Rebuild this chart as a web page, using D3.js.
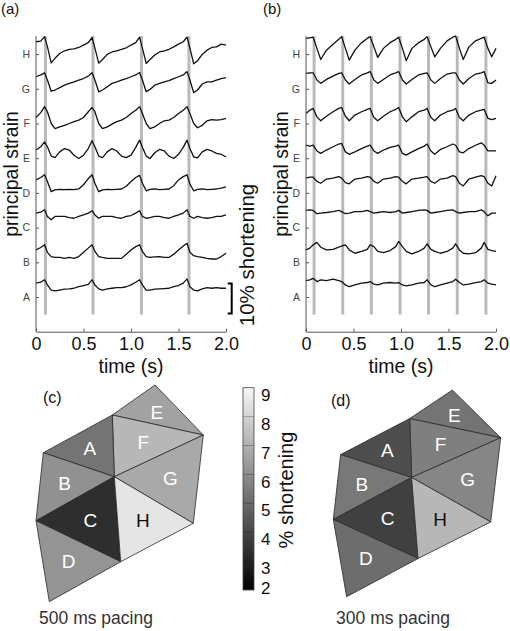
<!DOCTYPE html>
<html><head><meta charset="utf-8">
<script src="https://cdn.jsdelivr.net/npm/d3@7"></script>
<style>body{margin:0;background:#fff}</style>
</head><body>
<svg id="fig" width="510" height="631"></svg>
<script>
// ---------- data ----------
const letters = ["A","B","C","D","E","F","G","H"];
const laneStep = 11.5;               // % strain between stacked traces
const xTicks = [0, 0.5, 1.0, 1.5, 2.0];
const xTickLabels = ["0","0.5","1.0","1.5","2.0"];

// panel (a): 500 ms pacing
const timesA = [0,0.05,0.09,0.12,0.16,0.2,0.25,0.3,0.35,0.4,0.45,0.5,0.55,0.59,0.62,0.66,0.7,0.75,0.8,0.85,0.9,0.95,1.0,1.05,1.09,1.12,1.16,1.2,1.25,1.3,1.35,1.4,1.45,1.5,1.55,1.59,1.62,1.66,1.7,1.75,1.8,1.85,1.9,1.95,2.0];
const pacingA = [0.1, 0.6, 1.11, 1.61];
const a500_H = [4.1,4.3,5.8,2.5,-2.9,-1.4,0.2,1.1,1.6,1.7,2.2,3.0,3.8,5.5,2.0,-3.0,-1.8,-0.1,0.7,1.1,1.6,2.1,3.0,3.8,5.6,2.0,-3.1,-1.8,-0.3,0.7,1.1,1.6,2.4,3.3,4.1,5.6,2.0,-3.2,-2.2,-0.1,1.3,2.2,2.4,3.3,3.0];
const a500_G = [4.0,4.6,5.3,2.9,-0.8,-0.4,0.4,1.2,1.8,2.3,2.9,3.4,4.2,5.3,2.9,-1.0,-0.4,0.7,1.8,2.3,2.9,3.4,4.0,4.6,5.4,2.9,-1.0,-0.2,1.2,1.8,2.3,2.7,3.4,4.0,4.6,5.7,2.9,-1.3,-0.4,1.6,2.3,2.3,2.9,3.4,3.7];
const a500_F = [2.0,3.6,5.6,3.9,0.0,-1.7,-1.1,-0.6,0.0,0.6,1.1,2.0,3.9,5.3,3.9,0.0,-1.7,-1.1,-0.2,0.6,1.1,2.0,3.3,4.4,5.6,3.3,0.0,-1.7,-1.1,0.0,0.9,1.1,2.0,3.3,4.4,5.6,3.3,0.0,-1.4,-0.6,0.9,1.3,1.1,1.3,1.7];
const a500_E = [2.7,3.8,5.4,3.8,0.7,0.2,2.1,3.2,2.7,1.0,-0.1,1.0,3.2,5.8,3.8,0.7,0.2,2.1,3.2,2.4,0.7,0.2,1.0,3.6,6.0,3.6,0.7,-0.1,1.8,2.9,2.4,0.7,-0.1,1.3,3.6,6.0,3.2,0.4,0.1,2.1,2.9,2.4,1.6,1.3,0.4];
const a500_D = [4.3,5.1,6.0,3.8,0.4,1.0,1.2,1.1,1.2,1.1,1.3,2.7,4.7,6.0,3.2,0.4,1.0,1.2,1.1,1.2,1.3,2.2,3.8,5.1,5.8,3.2,0.7,1.2,1.3,1.1,1.2,1.3,2.4,4.3,5.4,6.0,2.9,0.7,1.2,1.3,1.1,1.2,1.3,1.6,2.0];
const a500_C = [4.8,5.1,5.9,3.7,2.6,3.7,3.7,3.7,3.3,3.1,3.7,4.2,4.8,5.6,4.2,3.1,3.7,3.7,3.7,3.3,3.1,3.7,4.0,4.8,5.6,3.7,3.1,3.3,3.7,3.7,3.3,3.1,3.7,4.2,4.8,5.9,3.7,3.1,3.7,3.3,3.1,3.3,3.7,3.7,4.2];
const a500_B = [4.1,4.9,5.8,3.3,1.9,1.6,1.6,1.3,1.6,1.3,1.9,3.3,4.7,5.8,3.6,1.9,1.6,1.3,1.3,1.3,1.3,2.7,4.1,5.2,5.8,3.6,1.9,1.6,1.8,1.9,1.6,1.6,2.7,4.1,5.4,6.3,3.3,2.2,1.9,1.6,1.3,1.1,1.1,1.9,3.0];
const a500_A = [4.6,4.9,5.7,4.0,2.3,2.0,2.3,2.6,2.7,2.9,3.4,3.8,4.2,5.7,4.0,2.7,2.3,2.7,2.9,3.1,3.1,3.4,4.0,4.9,5.7,4.0,2.3,2.3,2.6,2.7,2.8,2.9,3.4,3.8,4.6,6.0,3.4,2.3,2.0,2.7,3.1,2.9,3.1,2.9,2.9];

// panel (b): 300 ms pacing
const timesB = [0,0.04,0.075,0.115,0.155,0.215,0.285,0.345,0.375,0.415,0.455,0.515,0.585,0.645,0.675,0.715,0.755,0.815,0.885,0.945,0.975,1.015,1.055,1.115,1.185,1.245,1.275,1.315,1.355,1.415,1.485,1.545,1.575,1.615,1.655,1.715,1.785,1.845,1.875,1.915,1.955,2.0];
const pacingB = [0.085, 0.387, 0.688, 0.99, 1.29, 1.592, 1.894];
const b300_H = [5.2,5.4,5.6,1.9,-1.8,1.3,3.3,4.9,5.8,1.9,-2.0,1.3,3.8,5.2,5.8,2.4,-1.1,1.9,3.8,4.9,5.6,1.9,-2.2,1.9,3.8,4.9,5.8,2.4,-0.9,1.9,4.4,5.6,6.0,1.9,-1.8,2.4,4.4,5.2,5.6,1.9,-0.9,1.9];
const b300_G = [5.1,5.3,5.3,2.9,1.8,3.1,4.2,5.1,5.3,2.9,1.6,3.1,4.6,5.3,5.7,2.9,1.8,3.1,4.6,5.3,5.7,2.9,1.6,3.1,4.6,5.1,5.3,2.9,1.8,3.4,4.9,5.3,5.3,2.9,1.6,3.4,4.9,5.3,5.7,2.0,1.8,2.9];
const b300_F = [3.3,4.4,5.0,2.2,0.9,2.4,3.9,5.0,5.3,2.4,0.9,2.8,3.9,4.7,5.0,2.0,0.9,2.4,3.9,4.7,5.3,2.2,0.6,2.2,3.9,4.4,5.0,2.0,0.9,2.8,3.9,4.4,5.0,2.0,0.9,2.8,3.9,4.4,4.7,1.7,1.3,1.7];
const b300_E = [4.3,4.0,4.3,2.4,1.6,2.7,3.8,4.7,4.9,2.1,1.3,2.1,3.2,4.0,4.3,2.4,1.6,2.7,3.6,4.0,4.3,1.6,1.0,2.1,3.2,4.0,4.7,2.4,1.3,2.9,3.8,4.7,4.3,2.1,1.8,3.2,4.3,5.1,4.3,2.4,2.4,2.4];
const b300_D = [4.9,5.2,5.2,3.8,3.2,4.6,4.9,5.4,4.9,3.4,3.0,4.6,4.9,5.4,5.2,3.8,3.2,4.6,4.9,5.4,5.2,3.8,3.0,4.6,4.9,5.2,5.4,3.8,3.2,4.6,4.9,5.7,5.4,3.2,2.3,4.6,5.2,5.7,5.4,3.2,2.3,5.7];
const b300_C = [5.7,5.9,5.7,4.6,4.8,5.0,5.3,5.7,5.3,4.6,4.8,5.3,5.3,5.7,5.3,4.8,5.0,5.3,5.0,5.3,5.7,4.8,5.0,5.3,5.7,5.9,5.7,4.8,5.0,5.3,5.7,5.9,5.3,4.8,5.0,5.3,5.3,5.9,5.3,3.9,4.8,4.8];
const b300_B = [4.1,4.7,5.8,6.6,5.0,4.1,4.3,5.0,5.4,5.8,4.1,3.0,3.6,4.3,5.8,5.2,3.6,3.2,3.9,5.2,6.9,5.2,3.6,2.8,3.6,4.7,6.1,4.3,3.6,3.0,3.6,4.7,6.1,4.1,3.0,2.8,3.2,4.7,6.6,4.3,3.9,3.6];
const b300_A = [5.4,5.7,6.2,5.1,5.7,5.4,5.9,5.4,5.1,4.0,3.4,4.0,4.6,4.8,5.1,4.3,4.0,4.6,4.8,4.6,4.8,4.0,3.7,4.0,4.6,4.8,5.7,4.0,3.4,4.0,4.6,5.1,5.9,4.8,4.0,4.3,4.8,5.1,5.7,4.6,4.3,4.0];

// mesh (mesh units) and shortening maps
const nodeX = [11.9, 7.63, 16.73, 0.73, 7.83, 0.0, 15.73, 8.47, 1.33];
const nodeY = [0.0, 3.0, 5.0, 6.77, 9.17, 13.57, 13.83, 17.67, 21.67];
const triLetters = ["E","F","A","B","G","C","H","D"];
const triNodes = [[0,1,2],[1,2,4],[1,3,4],[3,4,5],[2,4,6],[4,5,7],[4,6,7],[5,7,8]];
const pct500 = [6.6, 7.2, 5.3, 6.1, 6.8, 3.3, 8.5, 6.2];
const pct300 = [5.3, 5.6, 4.2, 5.4, 5.8, 3.8, 7.2, 5.1];
const cbTicks = [2,3,4,5,6,7,8,9];

// ---------- drawing ----------
const FONT = "'Liberation Sans', Arial, Helvetica, sans-serif";
const svg = d3.select("#fig").style("font-family", FONT);

const tracesA = [a500_A,a500_B,a500_C,a500_D,a500_E,a500_F,a500_G,a500_H];
const tracesB = [b300_A,b300_B,b300_C,b300_D,b300_E,b300_F,b300_G,b300_H];

const y = d3.scaleLinear().domain([0, 98]).range([331.7, 36]);

function tracePanel(x0, times, traces, pacing, tag, tagX) {
  const x = d3.scaleLinear().domain([0, 2]).range([x0, x0 + 190]);
  const g = svg.append("g");
  // pacing markers
  g.selectAll("line.pace").data(pacing).join("line")
    .attr("x1", d => x(d)).attr("x2", d => x(d))
    .attr("y1", y(5.7)).attr("y2", y(98))
    .attr("stroke", "#b9b9b9").attr("stroke-width", 3);
  // traces
  const line = d3.line().x(d => x(d[0])).y(d => y(d[1])).curve(d3.curveLinear);
  traces.forEach((vals, i) => {
    const base = (i + 1) * laneStep;
    const pts = times.map((t, j) => [t, base + vals[j]]);
    g.append("path").attr("d", line(pts)).attr("fill", "none")
      .attr("stroke", "#111").attr("stroke-width", 1.3).attr("stroke-linejoin", "round");
  });
  // axes
  const xa = g.append("g").attr("transform", `translate(0,${y(0)})`)
    .call(d3.axisBottom(x).tickValues(xTicks).tickFormat((d, i) => xTickLabels[i])
      .tickSizeInner(-3).tickSizeOuter(0).tickPadding(6));
  xa.selectAll("text").attr("font-size", 18).attr("fill", "#111").attr("font-family", FONT);
  xa.selectAll("path,line").attr("stroke", "#555");
  const ya = g.append("g").attr("transform", `translate(${x0},0)`)
    .call(d3.axisLeft(y).tickValues(letters.map((l, i) => (i + 1) * laneStep))
      .tickFormat((d, i) => letters[i]).tickSizeInner(-3).tickSizeOuter(0).tickPadding(6));
  ya.select("path.domain").attr("d", `M0,${y(98)}V${y(0)}`);
  ya.selectAll("text").attr("font-size", 10.5).attr("fill", "#444").attr("font-family", FONT);
  ya.selectAll("path,line").attr("stroke", "#555");
  // titles
  svg.append("text").attr("x", x0 + 95).attr("y", 372.5).attr("text-anchor", "middle")
    .attr("font-size", 19.5).attr("fill", "#111").text("time (s)");
  svg.append("text").attr("transform", `translate(${x0 - 18.5},174) rotate(-90)`)
    .attr("text-anchor", "middle").attr("font-size", 19.5).attr("fill", "#111").text("principal strain");
  svg.append("text").attr("x", tagX).attr("y", 13.5).attr("font-size", 15).attr("fill", "#111").text(tag);
  return x;
}

const xA = tracePanel(36, timesA, tracesA, pacingA, "(a)", 1);
tracePanel(306, timesB, tracesB, pacingB, "(b)", 263);

// scale bar 10 %
const sbX = xA(2.06);
svg.append("path")
  .attr("d", `M${sbX - 4},${y(16)}H${sbX}V${y(6)}H${sbX - 4}`)
  .attr("fill", "none").attr("stroke", "#000").attr("stroke-width", 2);
svg.append("text").attr("transform", `translate(254,255) rotate(-90)`)
  .attr("text-anchor", "middle").attr("font-size", 20.5).attr("fill", "#111").text("10% shortening");

// ---------- meshes ----------
const gray = d3.scaleLinear().domain([2, 9]).range(["#000000", "#f7f7f7"]);

function meshPanel(xr, yr, vals, tag, tagPos, caption, capX) {
  const mx = d3.scaleLinear().domain([0, 16.73]).range(xr);
  const my = d3.scaleLinear().domain([0, 21.67]).range(yr);
  const g = svg.append("g");
  triNodes.forEach((tri, i) => {
    const pts = tri.map(n => [mx(nodeX[n]), my(nodeY[n])]);
    g.append("path").attr("d", "M" + pts.join("L") + "Z")
      .attr("fill", gray(vals[i])).attr("stroke", "#2a2a2a").attr("stroke-width", 0.8)
      .attr("stroke-linejoin", "round");
  });
  triNodes.forEach((tri, i) => {
    const cx = d3.mean(tri, n => mx(nodeX[n]));
    const cy = d3.mean(tri, n => my(nodeY[n]));
    g.append("text").attr("x", cx).attr("y", cy).attr("dy", "0.36em")
      .attr("text-anchor", "middle").attr("font-size", 19)
      .attr("fill", triLetters[i] === "H" ? "#111" : "#fff").text(triLetters[i]);
  });
  svg.append("text").attr("x", tagPos[0]).attr("y", tagPos[1]).attr("font-size", 16)
    .attr("fill", "#111").text(tag);
  svg.append("text").attr("x", capX).attr("y", 624).attr("text-anchor", "middle")
    .attr("font-size", 17.5).attr("fill", "#333").text(caption);
}

meshPanel([36, 203.3], [385, 601.7], pct500, "(c)", [43, 403], "500 ms pacing", 96);
meshPanel([333.3, 500.7], [390, 596.7], pct300, "(d)", [331, 406], "300 ms pacing", 393);

// ---------- colorbar ----------
const cbY = d3.scaleLinear().domain([2, 9]).range([590, 387.7]);
const defs = svg.append("defs");
const grad = defs.append("linearGradient").attr("id", "cbg")
  .attr("x1", 0).attr("y1", 1).attr("x2", 0).attr("y2", 0);
grad.append("stop").attr("offset", 0).attr("stop-color", gray(2));
grad.append("stop").attr("offset", 1).attr("stop-color", gray(9));
svg.append("rect").attr("x", 243).attr("y", cbY(9)).attr("width", 11)
  .attr("height", cbY(2) - cbY(9)).attr("fill", "url(#cbg)");
svg.selectAll("line.cbt").data(cbTicks.slice(1, -1)).join("line")
  .attr("x1", 243).attr("x2", 254).attr("y1", d => cbY(d)).attr("y2", d => cbY(d))
  .attr("stroke", "rgba(0,0,0,0.25)").attr("stroke-width", 1);
svg.append("rect").attr("x", 243).attr("y", cbY(9)).attr("width", 11)
  .attr("height", cbY(2) - cbY(9)).attr("fill", "none").attr("stroke", "#444").attr("stroke-width", 0.8);
svg.selectAll("text.cbl").data(cbTicks).join("text")
  .attr("x", 261).attr("y", d => Math.min(cbY(d) + 7, cbY(2) - 2)).attr("dy", "0.36em")
  .attr("font-size", 17).attr("fill", "#111").text(d => d);
svg.append("text").attr("transform", `translate(292.5,490) rotate(-90)`)
  .attr("text-anchor", "middle").attr("font-size", 20).attr("fill", "#111").text("% shortening");
</script>
</body></html>
